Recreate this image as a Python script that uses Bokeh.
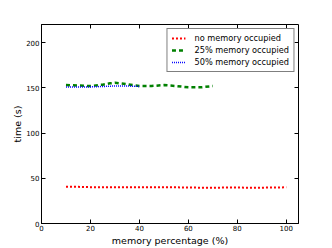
from bokeh.plotting import figure
from bokeh.models import LinearAxis, Range1d, FixedTicker, Legend, LegendItem
from bokeh.embed import file_html
from bokeh.resources import INLINE

x_none = [10, 15, 20, 25, 30, 35, 40, 45, 50, 55, 60, 65, 70, 75, 80, 85, 90, 95, 100]
y_none = [40.5, 40.5, 40.2, 40.0, 40.0, 40.0, 40.0, 40.0, 40.0, 40.0, 39.8, 39.6, 39.6, 39.7, 39.7, 39.6, 39.6, 39.8, 40.0]
x_25 = [10, 15, 20, 25, 28, 30, 35, 40, 45, 50, 55, 60, 65, 70]
y_25 = [153, 152.5, 152, 153.5, 155, 155.5, 154, 152, 152, 153, 152, 150.5, 150.5, 152]
x_50 = [10, 15, 20, 25, 30, 35, 40]
y_50 = [151, 151, 151, 151.5, 152, 152, 151.5]
labels = ["no memory occupied", "25% memory occupied", "50% memory occupied"]
x_ticks = [0, 20, 40, 60, 80, 100]
y_ticks = [0, 50, 100, 150, 200]

FONT = "DejaVu Sans"

p = figure(frame_width=257, frame_height=199, output_backend="svg", toolbar_location=None,
           x_range=Range1d(0, 105), y_range=Range1d(0, 220),
           min_border_left=41, min_border_right=30, min_border_top=24, min_border_bottom=24)
p.grid.visible = False
p.outline_line_color = "black"
p.outline_line_width = 1
p.background_fill_color = "white"
p.border_fill_color = "white"

for ax in (p.xaxis[0], p.yaxis[0]):
    ax.major_tick_in = 4
    ax.major_tick_out = 0
    ax.minor_tick_in = 0
    ax.minor_tick_out = 0
    ax.major_label_text_font = FONT
    ax.major_label_text_font_size = "7px"
    ax.major_label_text_color = "black"
    ax.axis_label_text_font = FONT
    ax.axis_label_text_font_size = "9.5px"
    ax.axis_label_text_font_style = "normal"
    ax.axis_label_text_color = "black"
    ax.axis_line_color = "black"
    ax.major_tick_line_color = "black"
p.xaxis[0].major_label_standoff = 1
p.xaxis[0].axis_label_standoff = 1
p.yaxis[0].major_label_standoff = 2
p.yaxis[0].axis_label_standoff = 0
p.xaxis[0].ticker = FixedTicker(ticks=x_ticks)
p.yaxis[0].ticker = FixedTicker(ticks=y_ticks)
p.xaxis[0].axis_label = "memory percentage (%)"
p.yaxis[0].axis_label = "time (s)"

top = LinearAxis(ticker=FixedTicker(ticks=x_ticks),
                 major_label_overrides={t: "" for t in x_ticks},
                 major_tick_in=4, major_tick_out=0, minor_tick_in=0, minor_tick_out=0,
                 major_label_standoff=0, axis_line_color=None, major_tick_line_color="black")
right = LinearAxis(ticker=FixedTicker(ticks=y_ticks),
                   major_label_overrides={t: "" for t in y_ticks},
                   major_tick_in=4, major_tick_out=0, minor_tick_in=0, minor_tick_out=0,
                   major_label_standoff=0, axis_line_color=None, major_tick_line_color="black")
p.add_layout(top, "above")
p.add_layout(right, "right")

r1 = p.line(x_none, y_none, line_color="red", line_width=2, line_dash="2 2")
r2 = p.line(x_25, y_25, line_color="green", line_width=2.5, line_dash="4 3")
r3 = p.line(x_50, y_50, line_color="blue", line_width=1.5, line_dash="1 1")

legend = Legend(items=[LegendItem(label=labels[0], renderers=[r1]),
                       LegendItem(label=labels[1], renderers=[r2]),
                       LegendItem(label=labels[2], renderers=[r3])],
                location="top_right", label_text_font=FONT, label_text_font_size="8.2px",
                label_text_color="black",
                border_line_color="black", border_line_width=1, spacing=2, padding=4,
                margin=4, glyph_width=14, glyph_height=10, label_height=10,
                label_standoff=9, background_fill_alpha=1)
p.add_layout(legend, "center")

open("out.html", "w").write(file_html(p, INLINE))
